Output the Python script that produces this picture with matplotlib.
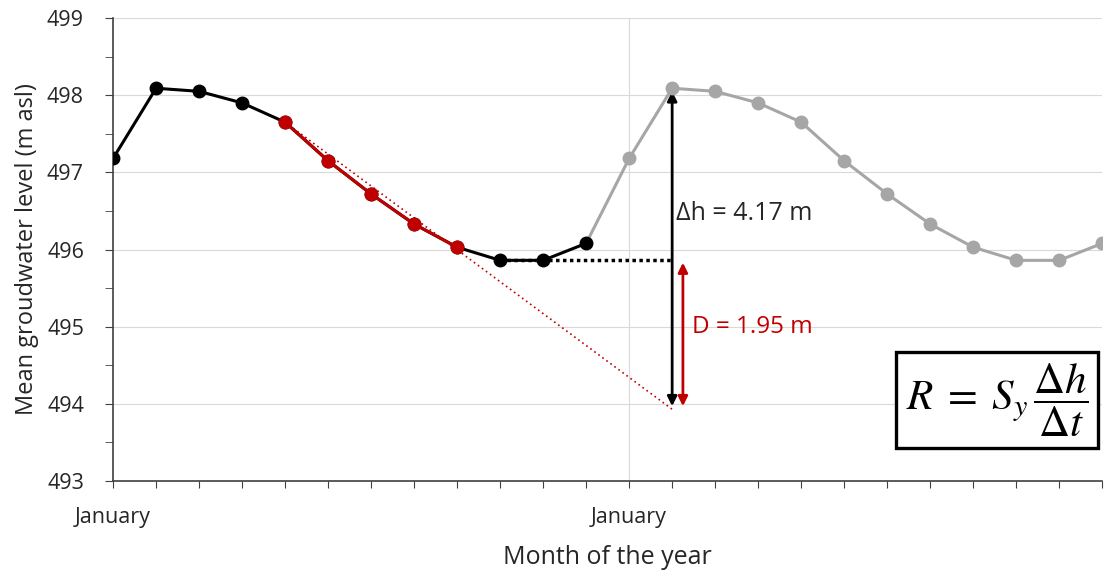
import numpy as np
import matplotlib
matplotlib.use('Agg')
import matplotlib.pyplot as plt

plt.rcParams['font.family'] = ['Open Sans', 'DejaVu Sans']
plt.rcParams['mathtext.fontset'] = 'stix'

# monthly mean groundwater level, year 1 and year 2 (same cycle)
months1 = np.arange(0, 12)
levels1 = [497.18, 498.09, 498.05, 497.90, 497.65, 497.15, 496.72, 496.33, 496.03, 495.86, 495.86, 496.08]
months2 = np.arange(12, 24)
levels2 = [497.18, 498.09, 498.05, 497.90, 497.65, 497.15, 496.72, 496.33, 496.03, 495.86, 495.86, 496.08]
recession = slice(4, 9)  # red recession part

# extrapolated recession and the minimum level
recess_x = [4, 13]
recess_y = [497.65, 493.93]
min_x = [9, 13]
min_y = [495.86, 495.86]

# arrows
dh_x, dh_top, dh_bot = 13, 498.05, 493.97
d_x, d_top, d_bot = 13.25, 495.83, 493.97
dh_label = "Δh = 4.17 m"
d_label = "D = 1.95 m"

tick_pos = np.arange(0, 24)
tick_labels = ["January" if m % 12 == 0 else "" for m in tick_pos]

red = "#C00000"
grey = "#A6A6A6"
txt = '#262626'

fig = plt.figure(figsize=(11.04, 5.72), dpi=100)
ax = fig.add_axes([0.1024, 0.159, 0.896, 0.8095])

ax.set_xlim(0, 23)
ax.set_ylim(493, 499)
ax.set_yticks(np.arange(493, 500))
ax.set_yticks(np.arange(493.5, 499, 1), minor=True)
ax.set_xticks(tick_pos)
ax.set_xticklabels(tick_labels)
ax.grid(axis='y', color='#D9D9D9', lw=0.8)
ax.axvline(12, color='#D9D9D9', lw=0.8, zorder=0)
for s in ['top', 'right']:
    ax.spines[s].set_visible(False)
for s in ['left', 'bottom']:
    ax.spines[s].set_color('#404040')
    ax.spines[s].set_linewidth(1.2)
ax.tick_params(axis='both', which='both', direction='out', color='#404040', labelsize=15.5, labelcolor=txt)
ax.tick_params(axis='y', which='both', length=6, pad=15)
ax.tick_params(axis='x', length=5, pad=14)
ax.set_ylabel("Mean groudwater level (m asl)", fontsize=17, color=txt, labelpad=6)
ax.set_xlabel("Month of the year", fontsize=18, color=txt, labelpad=12)

# dotted helper lines
ax.plot(recess_x, recess_y, ls=(0, (1, 2)), color=red, lw=1.2, zorder=2)
ax.plot(min_x, min_y, ls=(0, (1, 1)), color='black', lw=2.5, zorder=2)

# year 2 (grey), joined to the last point of year 1
ax.plot(np.r_[months1[-1], months2], np.r_[levels1[-1], levels2], color=grey, lw=2.2, zorder=3)
ax.plot(months2, levels2, 'o', color=grey, ms=9, zorder=4)

# year 1
ax.plot(months1, levels1, '-o', color='black', lw=2.2, ms=9, zorder=5)
ax.plot(months1[recession], np.array(levels1)[recession], '-o', color=red, lw=2.2, ms=9, zorder=6)

# arrows
ax.annotate("", xy=(dh_x, dh_top), xytext=(dh_x, dh_bot),
            arrowprops=dict(arrowstyle='<|-|>', color='black', lw=2, mutation_scale=14, shrinkA=0, shrinkB=0))
ax.annotate("", xy=(d_x, d_top), xytext=(d_x, d_bot),
            arrowprops=dict(arrowstyle='<|-|>', color=red, lw=2, mutation_scale=14, shrinkA=0, shrinkB=0))
ax.text(13.1, 496.47, dh_label, fontsize=18, color=txt, va='center')
ax.text(13.45, 495.0, d_label, fontsize=17.5, color=red, va='center')

ax.text(20.55, 494.05, r"$R\;=\;S_y\,\dfrac{\Delta h}{\Delta t}$", fontsize=31, ha='center', va='center',
        bbox=dict(boxstyle='square,pad=0.22', fc='white', ec='black', lw=2.4), zorder=7)

fig.savefig("out.png", dpi=100)
